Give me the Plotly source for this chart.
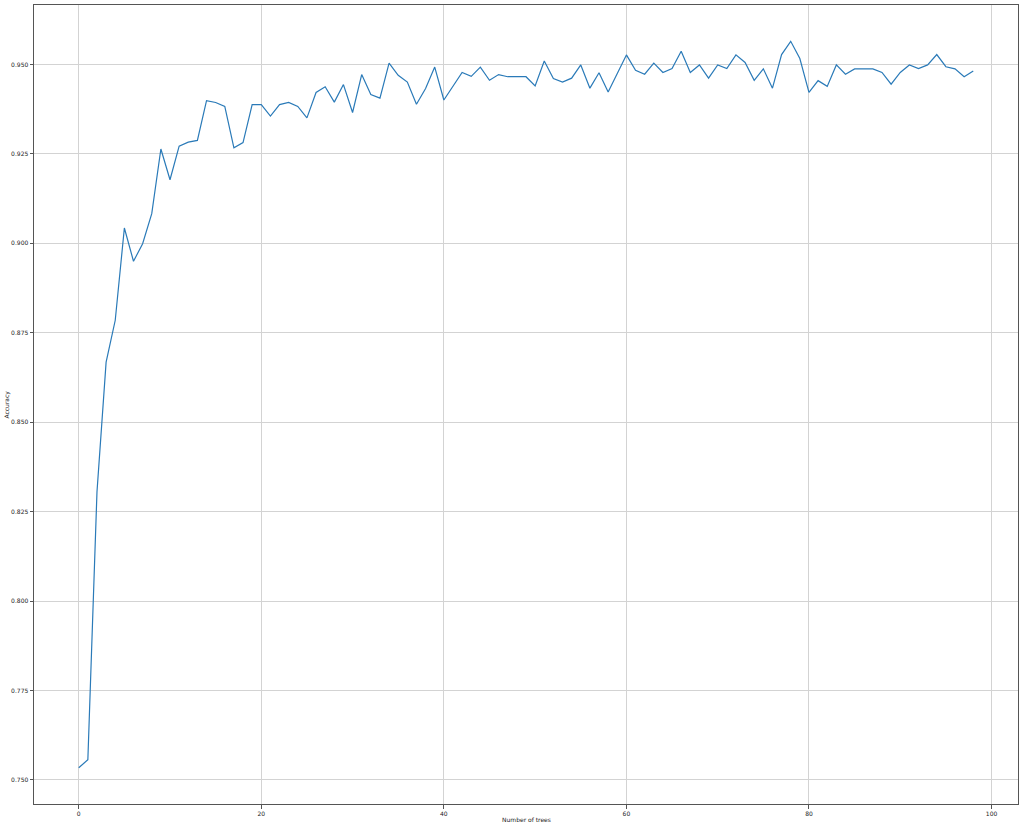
import plotly.graph_objects as go

n_trees = list(range(99))
accuracy = [
    0.7534, 0.7556, 0.8305, 0.8668, 0.8785, 0.9043, 0.8950, 0.8999, 0.9083, 0.9264,
    0.9178, 0.9272, 0.9283, 0.9288, 0.9399, 0.9394, 0.9383, 0.9267, 0.9282, 0.9388,
    0.9388, 0.9356, 0.9388, 0.9394, 0.9383, 0.9351, 0.9422, 0.9438, 0.9395, 0.9444,
    0.9366, 0.9472, 0.9416, 0.9406, 0.9504, 0.9470, 0.9451, 0.9389, 0.9433, 0.9493,
    0.9401, 0.9441, 0.9478, 0.9467, 0.9493, 0.9456, 0.9472, 0.9466, 0.9466, 0.9466,
    0.9440, 0.9510, 0.9461, 0.9451, 0.9462, 0.9499, 0.9434, 0.9477, 0.9423, 0.9475,
    0.9527, 0.9484, 0.9473, 0.9504, 0.9478, 0.9489, 0.9537, 0.9478, 0.9499, 0.9462,
    0.9499, 0.9489, 0.9527, 0.9506, 0.9456, 0.9488, 0.9434, 0.9528, 0.9565, 0.9517,
    0.9422, 0.9455, 0.9439, 0.9499, 0.9473, 0.9488, 0.9488, 0.9488, 0.9478, 0.9445,
    0.9478, 0.9499, 0.9489, 0.9499, 0.9528, 0.9494, 0.9488, 0.9466, 0.9482,
]
x_ticks = [0, 20, 40, 60, 80, 100]
y_ticks = [0.750, 0.775, 0.800, 0.825, 0.850, 0.875, 0.900, 0.925, 0.950]

xmin, xmax = min(n_trees), max(n_trees)
ymin, ymax = min(accuracy), max(accuracy)
xpad = 0.05 * (xmax - xmin)
ypad = 0.05 * (ymax - ymin)

fig = go.Figure(go.Scatter(
    x=n_trees, y=accuracy, mode="lines",
    line=dict(color="#2a7ab8", width=1.2),
))

axis_common = dict(
    showgrid=True, gridcolor="#d3d3d3", gridwidth=1,
    showline=True, linecolor="#555555", linewidth=1, mirror=True,
    ticks="outside", ticklen=3.5, tickcolor="#555555", tickwidth=1,
    zeroline=False, automargin=False,
    tickfont=dict(family="DejaVu Sans", size=6, color="#222222"),
)

fig.update_layout(
    width=1024, height=827,
    margin=dict(l=34, r=6, t=5, b=23),
    paper_bgcolor="white", plot_bgcolor="white",
    showlegend=False,
    font=dict(family="DejaVu Sans", size=6, color="#222222"),
    xaxis=dict(
        range=[xmin - xpad, xmax + xpad], tickvals=x_ticks,
        ticktext=[str(t) for t in x_ticks],
        **axis_common,
    ),
    yaxis=dict(
        range=[ymin - ypad, ymax + ypad], tickvals=y_ticks,
        ticktext=[f"{t:.3f}" for t in y_ticks],
        **axis_common,
    ),
    annotations=[
        dict(text="Number of trees", xref="paper", yref="paper", x=0.5, y=0,
             xanchor="center", yanchor="middle", yshift=-15, showarrow=False,
             font=dict(family="DejaVu Sans", size=6, color="#222222")),
        dict(text="Accuracy", xref="paper", yref="paper", x=0, y=0.5,
             xanchor="center", yanchor="middle", xshift=-28, textangle=-90,
             showarrow=False,
             font=dict(family="DejaVu Sans", size=6, color="#222222")),
    ],
)

fig.write_html(
    "out.html",
    config={"displayModeBar": False},
    post_script="document.body.style.margin='0px';document.body.style.overflow='hidden';",
)
